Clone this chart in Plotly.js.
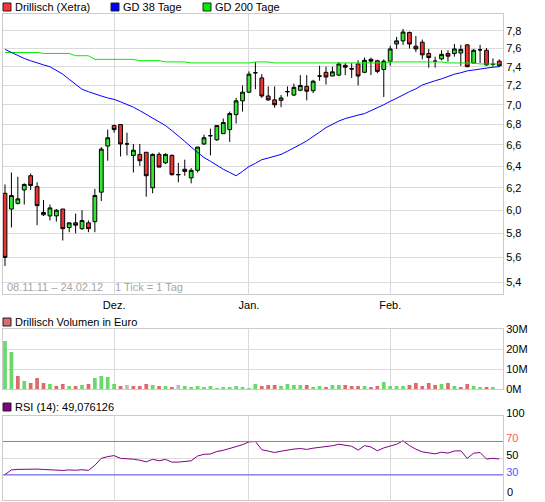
<!DOCTYPE html>
<html><head><meta charset="utf-8">
<script src="https://cdn.plot.ly/plotly-3.0.1.min.js"></script>
<style>html,body{margin:0;padding:0;background:#fff}#chart{width:545px;height:502px}</style>
</head><body><div id="chart"></div>
<script>
const dates = [
 '2011-11-08','2011-11-09','2011-11-10','2011-11-11','2011-11-14','2011-11-15','2011-11-16','2011-11-17','2011-11-18',
 '2011-11-21','2011-11-22','2011-11-23','2011-11-24','2011-11-25','2011-11-28','2011-11-29','2011-11-30',
 '2011-12-01','2011-12-02','2011-12-05','2011-12-06','2011-12-07','2011-12-08','2011-12-09','2011-12-12','2011-12-13',
 '2011-12-14','2011-12-15','2011-12-16','2011-12-19','2011-12-20','2011-12-21','2011-12-22','2011-12-23','2011-12-27',
 '2011-12-28','2011-12-29','2011-12-30',
 '2012-01-02','2012-01-03','2012-01-04','2012-01-05','2012-01-06','2012-01-09','2012-01-10','2012-01-11','2012-01-12',
 '2012-01-13','2012-01-16','2012-01-17','2012-01-18','2012-01-19','2012-01-20','2012-01-23','2012-01-24','2012-01-25',
 '2012-01-26','2012-01-27','2012-01-30','2012-01-31',
 '2012-02-01','2012-02-02','2012-02-03','2012-02-06','2012-02-07','2012-02-08','2012-02-09','2012-02-10','2012-02-13',
 '2012-02-14','2012-02-15','2012-02-16','2012-02-17','2012-02-20','2012-02-21','2012-02-22','2012-02-23','2012-02-24'];
const open = [6.15,6.01,6.06,6.18,6.31,6.21,5.96,5.95,5.95,6.01,5.85,5.89,5.84,5.89,5.90,6.16,6.59,6.79,6.80,6.61,
 6.50,6.51,6.53,6.20,6.51,6.43,6.50,6.32,6.37,6.29,6.36,6.61,6.69,6.65,6.71,6.75,6.90,7.04,7.13,7.335,
 7.28,7.09,7.05,7.045,7.135,7.10,7.15,7.19,7.145,7.30,7.34,7.30,7.31,7.415,7.38,7.43,7.34,7.48,7.465,7.37,
 7.46,7.65,7.685,7.78,7.625,7.67,7.545,7.46,7.485,7.545,7.545,7.55,7.64,7.44,7.585,7.58,7.425,7.46];
const high = [6.23,6.34,6.30,6.24,6.33,6.25,6.09,6.05,6.01,6.01,5.89,5.97,6.00,5.91,6.19,6.58,6.75,6.80,6.80,6.72,
 6.61,6.61,6.53,6.52,6.53,6.52,6.51,6.43,6.46,6.38,6.58,6.70,6.76,6.79,6.86,6.93,7.07,7.20,7.35,7.45,
 7.32,7.19,7.19,7.10,7.19,7.22,7.31,7.31,7.26,7.41,7.40,7.40,7.45,7.44,7.44,7.47,7.50,7.50,7.475,7.48,
 7.63,7.73,7.82,7.79,7.74,7.70,7.595,7.51,7.58,7.58,7.65,7.64,7.65,7.595,7.64,7.605,7.49,7.48];
const low = [5.53,5.85,6.05,6.05,6.18,5.87,5.95,5.91,5.90,5.74,5.81,5.80,5.83,5.81,5.81,6.08,6.45,6.72,6.49,6.50,
 6.34,6.40,6.12,6.15,6.39,6.42,6.31,6.25,6.31,6.24,6.34,6.60,6.50,6.64,6.71,6.63,6.81,6.93,7.12,7.16,
 7.07,7.04,6.97,6.975,7.085,7.09,7.14,7.045,7.12,7.25,7.21,7.30,7.30,7.31,7.28,7.20,7.33,7.31,7.33,7.08,
 7.41,7.595,7.64,7.60,7.56,7.48,7.39,7.39,7.47,7.455,7.51,7.41,7.40,7.44,7.44,7.41,7.40,7.40];
const close = [5.60,6.13,6.10,6.23,6.22,6.04,5.98,6.02,6.00,5.84,5.89,5.87,5.91,5.84,6.13,6.56,6.67,6.75,6.61,6.61,
 6.55,6.45,6.31,6.51,6.39,6.51,6.32,6.32,6.35,6.36,6.58,6.67,6.69,6.79,6.82,6.91,7.04,7.13,7.32,7.335,
 7.09,7.05,7.00,7.07,7.135,7.18,7.20,7.14,7.245,7.30,7.29,7.345,7.43,7.395,7.375,7.30,7.47,7.46,7.35,7.46,
 7.595,7.685,7.785,7.65,7.595,7.53,7.50,7.46,7.535,7.515,7.595,7.59,7.40,7.58,7.585,7.42,7.427,7.41];
const volumeM = [24.2,18.7,6.7,4.2,3.2,5.7,3.2,2.7,1.7,2.7,1.7,1.7,2.2,2.7,5.7,6.7,6.2,2.7,1.7,2.2,
 1.7,1.7,2.7,2.2,1.7,1.7,1.2,2.2,1.7,1.2,1.7,1.2,1.7,0.7,1.2,1.2,1.7,1.2,0.7,2.7,
 1.7,2.2,2.2,1.7,2.7,2.2,2.2,2.2,1.2,1.7,1.2,2.2,2.2,2.2,1.7,1.7,1.7,1.2,1.7,3.7,
 1.7,1.7,1.7,2.2,3.2,1.7,3.2,2.2,2.7,3.2,1.7,1.2,2.7,1.7,1.2,1.2,1.2,0];
const gd38 = [7.59,7.555,7.52,7.49,7.465,7.44,7.42,7.40,7.36,7.32,7.265,7.21,7.16,7.135,7.11,7.09,7.07,7.055,7.03,7.005,
 6.975,6.94,6.90,6.865,6.825,6.79,6.74,6.69,6.635,6.58,6.525,6.48,6.445,6.405,6.37,6.34,6.31,6.35,6.395,6.425,
 6.46,6.475,6.49,6.51,6.54,6.57,6.605,6.64,6.68,6.725,6.77,6.805,6.835,6.86,6.88,6.895,6.91,6.94,6.965,7.0,
 7.035,7.065,7.10,7.135,7.165,7.205,7.23,7.25,7.27,7.295,7.32,7.335,7.355,7.365,7.375,7.39,7.395,7.40];
const gd200 = [7.555,7.555,7.555,7.555,7.555,7.555,7.545,7.545,7.545,7.545,7.545,7.52,7.52,7.52,7.48,7.48,7.48,7.48,7.48,7.48,
 7.48,7.466,7.466,7.466,7.466,7.452,7.452,7.452,7.452,7.441,7.441,7.441,7.441,7.441,7.441,7.441,7.441,7.441,7.441,7.452,
 7.452,7.452,7.441,7.441,7.441,7.441,7.441,7.441,7.441,7.441,7.441,7.441,7.441,7.441,7.441,7.441,7.441,7.441,7.441,7.441,
 7.452,7.452,7.452,7.452,7.452,7.452,7.452,7.452,7.452,7.441,7.441,7.441,7.441,7.441,7.43,7.43,7.43,7.43];
const rsi = [30.4,36.0,36.6,37.0,37.2,37.0,36.5,36.2,36.2,35.4,
 36.0,35.6,36.2,35.4,41.5,49.8,51.9,53.1,49.8,49.5,
 48.8,47.6,45.7,48.6,46.9,48.6,45.3,45.3,46.2,46.9,
 52.6,54.7,55.0,58.0,59.4,61.3,63.9,66.2,69.5,70.0,
 60.1,58.5,56.8,58.4,59.8,60.9,61.6,60.5,62.0,62.9,
 63.4,64.9,66.7,65.6,64.3,59.7,65.0,63.4,58.9,62.3,
 64.7,66.7,70.8,65.1,60.8,57.6,56.4,55.2,57.2,56.1,
 58.6,58.9,49.8,56.0,56.8,49.0,49.8,49.076126];
const monthTicks = ['2011-12-01','2012-01-02','2012-02-01'];
const monthLabels = ['Dez.','Jan.','Feb.'];
const priceTicks = [5.4,5.6,5.8,6.0,6.2,6.4,6.6,6.8,7.0,7.2,7.4,7.6,7.8];
const volTicks = [0,10,20,30];
const rsiTicks = [0,30,50,70,100];
const rsiUpper = 70, rsiLower = 30;

// ---- layout helpers (pixel -> paper) ----
const L = 3, R = 42, T = 14, B = 2, W = 545, H = 502;
const PW = W - L - R, PH = H - T - B;
const px = x => (x - L) / PW;
const py = y => 1 - (y - T) / PH;

const FONT = 'Liberation Sans, Arial, sans-serif';
const GRID = '#dadada', BOX = '#cccccc';
const UP = '#33e833', DOWN = '#ee3333';
const VUP = '#6ad86a', VDOWN = '#dd6b6b', VFLAT = '#bdbdbd';

const volColors = close.map((c, i) => i === 0 || c > close[i-1] ? VUP : (c < close[i-1] ? VDOWN : VFLAT));
const fmt = v => v.toFixed(1).replace('.', ',');

const traces = [
 {type:'scatter', mode:'lines', x:dates, y:gd200, line:{color:'#00ee00', width:1}, hoverinfo:'none', xaxis:'x', yaxis:'y'},
 {type:'scatter', mode:'lines', x:dates, y:gd38, line:{color:'#0000ff', width:1}, hoverinfo:'none', xaxis:'x', yaxis:'y'},
 {type:'candlestick', x:dates, open:open, high:high, low:low, close:close, xaxis:'x', yaxis:'y',
  increasing:{fillcolor:UP, line:{color:'#000', width:1}},
  decreasing:{fillcolor:DOWN, line:{color:'#000', width:1}},
  whiskerwidth:0, hoverinfo:'none'},
 {type:'bar', x:dates, y:volumeM, marker:{color:volColors, line:{width:0}}, xaxis:'x2', yaxis:'y2', hoverinfo:'none'},
 {type:'scatter', mode:'lines', x:dates, y:rsi, line:{color:'#800080', width:1}, xaxis:'x3', yaxis:'y3', hoverinfo:'none'}
];

const xRange = [-0.31, 77.57];
const xCommon = {type:'category', range:xRange, tickvals:monthTicks, ticktext:monthLabels, showgrid:true, gridcolor:GRID,
  gridwidth:1, showline:true, mirror:true, linecolor:BOX, linewidth:1, ticks:'', zeroline:false, fixedrange:true,
  tickfont:{family:FONT, size:11, color:'#000'}};
const yCommon = {side:'right', showgrid:true, gridcolor:GRID, gridwidth:1, showline:true, mirror:true, linecolor:BOX,
  linewidth:1, ticks:'', zeroline:false, fixedrange:true, tickfont:{family:FONT, size:11, color:'#000'}};

const rsiText = rsiTicks.map(v => v === 0 ? '' : (v === rsiUpper ? '<span style="fill:#ff5555">' + v + '</span>' :
                                  (v === rsiLower ? '<span style="fill:#5555ff">' + v + '</span>' : String(v))));

const sq = (x0, y0, x1, y1, color) => ({type:'rect', xref:'paper', yref:'paper', x0:px(x0), x1:px(x1), y0:py(y1), y1:py(y0),
  fillcolor:color, line:{color:'#222', width:1}, layer:'above'});
const txt = (x, y, text, color) => ({xref:'paper', yref:'paper', x:px(x), y:py(y), xanchor:'left', yanchor:'middle',
  text:text, showarrow:false, borderpad:0, borderwidth:0, font:{family:FONT, size:11, color:color || '#000'}});

const layout = {
  width:W, height:H, margin:{l:L, r:R, t:T, b:B}, paper_bgcolor:'#fff', plot_bgcolor:'#fff',
  showlegend:false, separators:',.', boxgap:0.41, boxgroupgap:0, bargap:0.42,
  font:{family:FONT, size:11, color:'#000'},
  xaxis: Object.assign({}, xCommon, {anchor:'y', rangeslider:{visible:false}, ticklabelstandoff:1}),
  xaxis2: Object.assign({}, xCommon, {anchor:'y2', matches:'x', showticklabels:false}),
  xaxis3: Object.assign({}, xCommon, {anchor:'y3', matches:'x', showticklabels:false}),
  yaxis: Object.assign({}, yCommon, {domain:[py(294), 1], type:'log', range:[Math.log10(5.308), Math.log10(7.993)],
     tickvals:priceTicks, ticktext:priceTicks.map(fmt)}),
  yaxis2: Object.assign({}, yCommon, {domain:[py(389.3), py(329.3)], range:[0, 30], tickvals:volTicks,
     ticktext:volTicks.map(v => v + 'M')}),
  yaxis3: Object.assign({}, yCommon, {domain:[0, py(416.4)], range:[0, 100], tickvals:rsiTicks, ticktext:rsiText,
     ticklabelshift:-3}),
  shapes:[
    {type:'line', xref:'x3 domain', yref:'y3', x0:0, x1:1, y0:rsiUpper, y1:rsiUpper, line:{color:'#ff5555', width:1}},
    {type:'line', xref:'x3 domain', yref:'y3', x0:0, x1:1, y0:rsiLower, y1:rsiLower, line:{color:'#5555ff', width:1}},
    sq(3, 3, 11, 11, '#ff3333'), sq(111, 3, 119, 11, '#0000ff'), sq(203, 3, 211, 11, '#00ee00'),
    sq(3, 318, 11, 326, '#dd6b6b'), sq(3, 403, 11, 411, '#800080')
  ],
  annotations:[
    txt(15, 7, 'Drillisch (Xetra)'), txt(123, 7, 'GD 38 Tage'), txt(215, 7, 'GD 200 Tage'),
    txt(15, 322, 'Drillisch Volumen in Euro'),
    txt(15, 407, 'RSI (14): ' + String(rsi[rsi.length-1]).replace('.', ',')),
    txt(7, 287, dates[0].slice(8,10) + '.' + dates[0].slice(5,7) + '.' + dates[0].slice(2,4) + ' \u2013 ' +
        dates[dates.length-1].slice(8,10) + '.' + dates[dates.length-1].slice(5,7) + '.' + dates[dates.length-1].slice(2,4), '#a6a6a6'),
    txt(115, 287, '1 Tick = 1 Tag', '#a6a6a6'),
    txt(507, 492, String(rsiTicks[0]))
  ]
};

Plotly.newPlot('chart', traces, layout, {staticPlot:true, displayModeBar:false});
</script></body></html>
